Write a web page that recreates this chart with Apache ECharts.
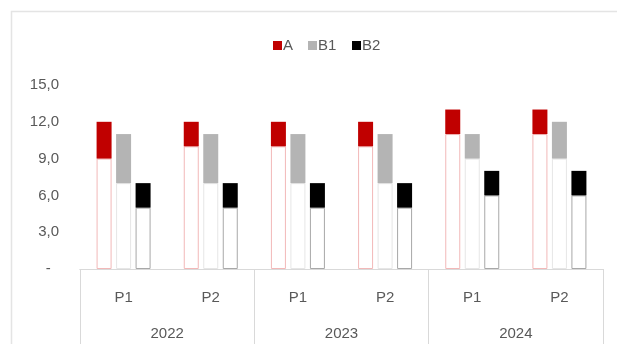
<!DOCTYPE html>
<html>
<head>
<meta charset="utf-8">
<script src="https://cdn.jsdelivr.net/npm/echarts@6/dist/echarts.min.js"></script>
<style>
  html, body { margin: 0; padding: 0; background: #fff; }
  #chart { width: 617px; height: 344px; }
</style>
</head>
<body>
<div id="chart"></div>
<script>
// Periods within each year, and the years that group them
const periods = ['P1', 'P2', 'P1', 'P2', 'P1', 'P2'];
const years = ['2022', '2023', '2024'];

// Range of each series per period: low end and high end
const aLow  = [9, 10, 10, 10, 11, 11];
const aHigh = [12, 12, 12, 12, 13, 13];
const b1Low  = [7, 7, 7, 7, 9, 9];
const b1High = [11, 11, 11, 11, 11, 12];
const b2Low  = [5, 5, 5, 5, 6, 6];
const b2High = [7, 7, 7, 7, 8, 8];

// Value axis ticks
const yMin = 0, yMax = 15, yStep = 3;

const FONT = "'Liberation Sans Narrow', 'Arial Narrow', 'Liberation Sans', Arial, sans-serif";
const TEXT = '#595959';

function span(lo, hi) { return hi.map((v, i) => v - lo[i]); }

// One floating range = invisible-ish base bar (outline only) + coloured span on top
function rangeSeries(name, lo, hi, color, edge) {
  return [
    {
      name: name + ' base', type: 'bar', stack: name, barWidth: 15, barGap: '30%',
      data: lo, silent: true,
      itemStyle: { color: 'rgba(255,255,255,0)', borderColor: edge, borderWidth: 1 }
    },
    {
      name: name, type: 'bar', stack: name, barWidth: 15, barGap: '30%',
      data: span(lo, hi),
      itemStyle: { color: color }
    }
  ];
}

function legendAt(name, left) {
  return {
    data: [name], left: left, top: 33, itemWidth: 9, itemHeight: 9, icon: 'rect',
    selectedMode: false,
    textStyle: { color: TEXT, fontFamily: FONT, fontSize: 15, padding: [0, 0, 0, -4] }
  };
}

const chart = echarts.init(document.getElementById('chart'), null, { renderer: 'canvas' });
chart.setOption({
  animation: false,
  backgroundColor: '#fff',
  graphic: [{
    type: 'rect', left: 9, top: 9, silent: true,
    shape: { width: 607, height: 340 },
    style: { fill: 'none', stroke: '#e4e4e4', lineWidth: 1.5 }
  }],
  legend: [legendAt('A', 268), legendAt('B1', 303), legendAt('B2', 347)],
  grid: { left: 80, right: 14, top: 85, bottom: 75 },
  xAxis: [
    {
      type: 'category', data: periods, position: 'bottom',
      axisLine: { show: true, lineStyle: { color: '#d9d9d9', width: 1 } },
      axisTick: { show: false },
      axisLabel: { color: TEXT, fontFamily: FONT, fontSize: 15, margin: 21 }
    },
    {
      type: 'category', data: years, position: 'bottom',
      axisLine: { show: true, lineStyle: { color: '#d9d9d9', width: 1 } },
      axisTick: { show: true, length: 80, lineStyle: { color: '#d9d9d9', width: 1 } },
      axisLabel: { color: TEXT, fontFamily: FONT, fontSize: 15, margin: 57 }
    }
  ],
  yAxis: {
    type: 'value', min: yMin, max: yMax, interval: yStep,
    axisLine: { show: false }, axisTick: { show: false },
    splitLine: { show: false },
    axisLabel: {
      color: TEXT, fontFamily: FONT, fontSize: 15, margin: 21,
      formatter: v => v === 0 ? '-  ' : v.toFixed(1).replace('.', ',')
    }
  },
  series: [].concat(
    rangeSeries('A', aLow, aHigh, '#c00000', '#f2b8b8'),
    rangeSeries('B1', b1Low, b1High, '#b4b4b4', '#e6e6e6'),
    rangeSeries('B2', b2Low, b2High, '#000000', '#a8a8a8')
  )
});
</script>
</body>
</html>
